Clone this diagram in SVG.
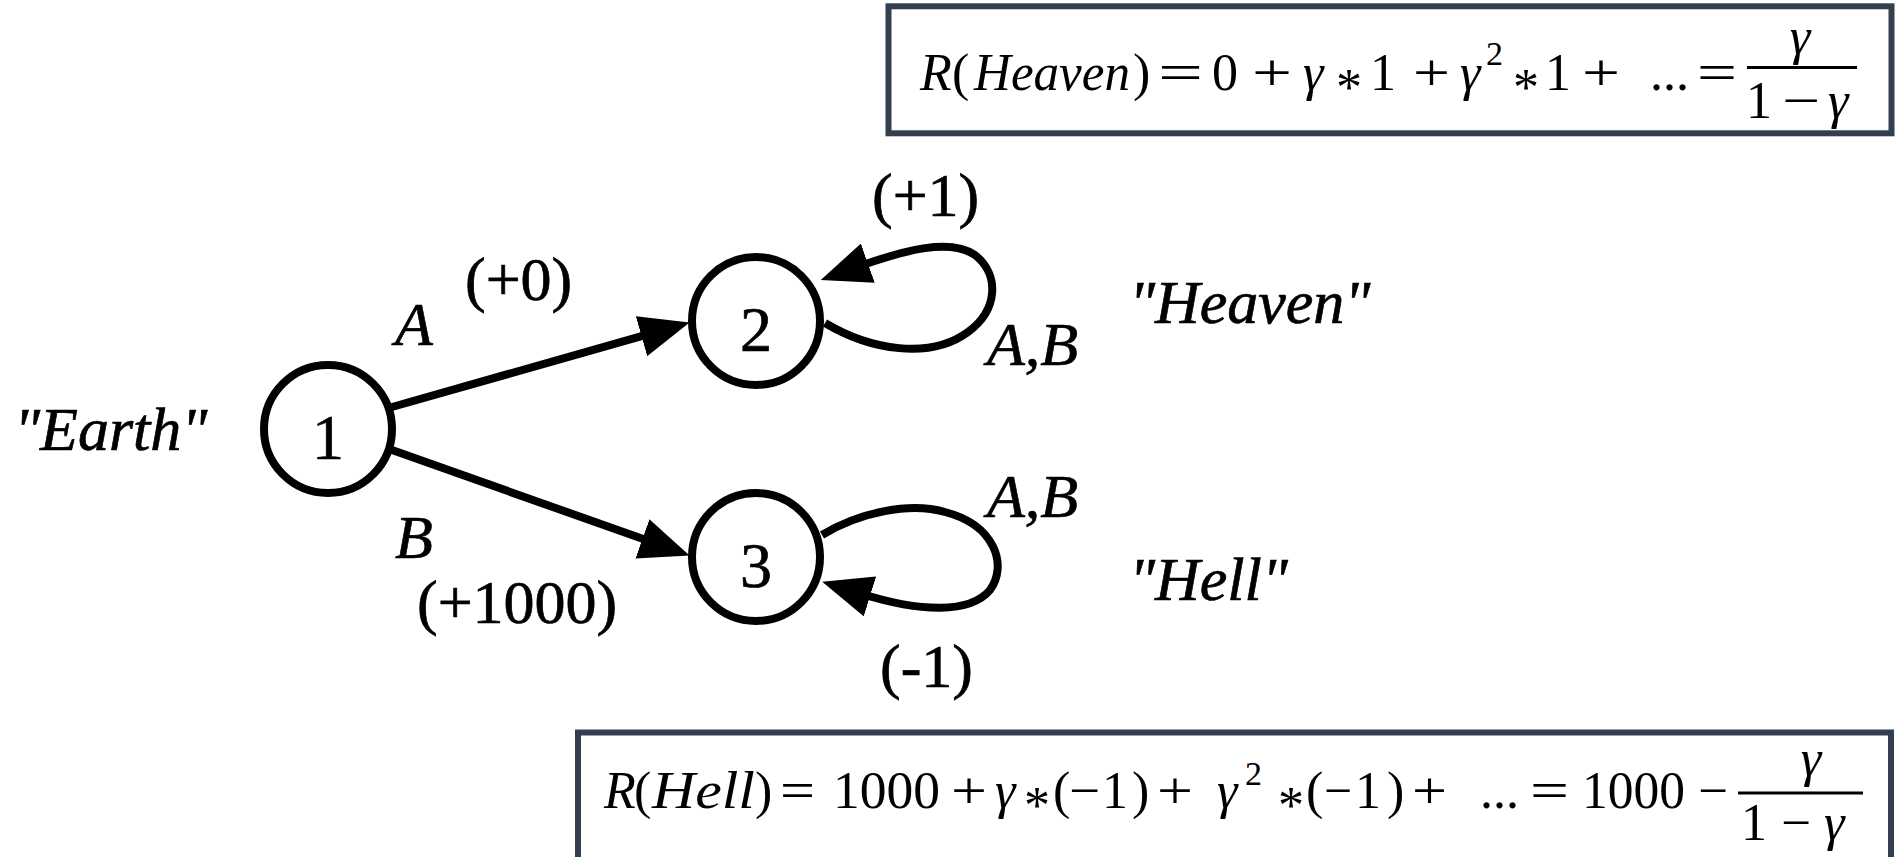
<svg xmlns="http://www.w3.org/2000/svg" width="1903" height="857" viewBox="0 0 1903 857">
<style>
.bg{fill:#ffffff}
.node{fill:#ffffff;stroke:#000;stroke-width:8}
.edge{fill:none;stroke:#000;stroke-width:8}
.lbl{font-family:"Liberation Serif","Times New Roman",serif;font-size:62px;fill:#000;stroke:#000;stroke-width:0.7}
.it{font-style:italic}
.num{font-family:"Liberation Serif","Times New Roman",serif;font-size:64px;text-anchor:middle;fill:#000;stroke:#000;stroke-width:0.7}
.box{fill:#ffffff;stroke:#333f4f;stroke-width:6}
.f{font-family:"Liberation Serif","DejaVu Serif",serif;font-size:52px;fill:#000}
.sup{font-size:34px}
.mid{text-anchor:middle}
.bar{stroke:#000;stroke-width:3}
</style>
<defs>
<marker id="arrow" markerUnits="userSpaceOnUse" markerWidth="50" markerHeight="42" viewBox="0 0 48 40" refX="8" refY="20" orient="auto">
<path d="M0,0 L48,20 L0,40 z" fill="#000"/>
</marker>
</defs>
<rect class="bg" x="0" y="0" width="1903" height="857"/>

<g id="connectors">
<path class="edge" d="M392,407 L649.5,333.9" marker-end="url(#arrow)"/>
<path class="edge" d="M392,450 L650.3,541.6" marker-end="url(#arrow)"/>
<path class="edge" d="M825,323 C870,350 930,360 968,332 C998,310 1000,275 975,255 C950,238 905,250 860,266" marker-end="url(#arrow)"/>
<path class="edge" d="M822,535 C860,512 910,502 945,512 C995,525 1008,565 990,590 C970,614 920,612 862,594" marker-end="url(#arrow)"/>
</g>

<g id="node-1">
<circle class="node" cx="328" cy="429" r="64"/>
<text class="num" x="328" y="459">1</text>
</g>
<g id="node-2">
<circle class="node" cx="756" cy="321" r="64"/>
<text class="num" x="756" y="351">2</text>
</g>
<g id="node-3">
<circle class="node" cx="756" cy="557" r="64"/>
<text class="num" x="756" y="587">3</text>
</g>

<g id="labels">
<text class="lbl it" x="14" y="450">"Earth"</text>
<text class="lbl it" x="1129" y="323">"Heaven"</text>
<text class="lbl it" x="1129" y="600">"Hell"</text>
<text class="lbl it" x="395" y="345">A</text>
<text class="lbl" x="465" y="300">(+0)</text>
<text class="lbl it" x="395" y="558">B</text>
<text class="lbl" x="417" y="623">(+1000)</text>
<text class="lbl" x="872" y="216">(+1)</text>
<text class="lbl it" x="987" y="365">A,B</text>
<text class="lbl it" x="987" y="517">A,B</text>
<text class="lbl" x="880" y="687">(-1)</text>
</g>

<g id="formula-heaven">
<rect class="box" x="888.5" y="6.3" width="1003" height="127"/>
<text class="f it" x="920" y="90">R</text>
<text class="f" x="952" y="90">(</text>
<text class="f it" x="974" y="90" textLength="156" lengthAdjust="spacingAndGlyphs">Heaven</text>
<text class="f" x="1133" y="90">)</text>
<text class="f" x="1158" y="90" textLength="45" lengthAdjust="spacingAndGlyphs">=</text>
<text class="f" x="1212" y="90">0</text>
<text class="f" x="1252" y="90" textLength="40" lengthAdjust="spacingAndGlyphs">+</text>
<text class="f it" x="1303" y="90">γ</text>
<text class="f mid" x="1349" y="105">*</text>
<text class="f" x="1370" y="90">1</text>
<text class="f" x="1413" y="90" textLength="37" lengthAdjust="spacingAndGlyphs">+</text>
<text class="f it" x="1460" y="90">γ</text>
<text class="f sup" x="1486" y="65">2</text>
<text class="f mid" x="1526" y="105">*</text>
<text class="f" x="1545" y="90">1</text>
<text class="f" x="1582" y="90" textLength="38" lengthAdjust="spacingAndGlyphs">+</text>
<text class="f" x="1650" y="90">...</text>
<text class="f" x="1697" y="90" textLength="40" lengthAdjust="spacingAndGlyphs">=</text>
<line class="bar" x1="1747" y1="67.5" x2="1857" y2="67.5"/>
<text class="f it mid" x="1800" y="54">γ</text>
<text class="f" x="1746" y="118">1</text>
<text class="f" x="1782" y="118" textLength="38" lengthAdjust="spacingAndGlyphs">−</text>
<text class="f it" x="1828" y="118">γ</text>
</g>

<g id="formula-hell">
<rect class="box" x="578" y="732.5" width="1313" height="135"/>
<text class="f it" x="604" y="808">R</text>
<text class="f" x="634" y="808">(</text>
<text class="f it" x="652" y="808" textLength="103" lengthAdjust="spacingAndGlyphs">Hell</text>
<text class="f" x="755" y="808">)</text>
<text class="f" x="780" y="808" textLength="35" lengthAdjust="spacingAndGlyphs">=</text>
<text class="f" x="833" y="808" textLength="107" lengthAdjust="spacingAndGlyphs">1000</text>
<text class="f" x="951" y="808" textLength="36" lengthAdjust="spacingAndGlyphs">+</text>
<text class="f it" x="995" y="808">γ</text>
<text class="f mid" x="1037" y="823">*</text>
<text class="f" x="1053" y="808">(</text>
<text class="f" x="1069" y="808" textLength="31" lengthAdjust="spacingAndGlyphs">−</text>
<text class="f" x="1102" y="808">1</text>
<text class="f" x="1132" y="808">)</text>
<text class="f" x="1157" y="808" textLength="36" lengthAdjust="spacingAndGlyphs">+</text>
<text class="f it" x="1217" y="808">γ</text>
<text class="f sup" x="1245" y="785">2</text>
<text class="f mid" x="1291" y="823">*</text>
<text class="f" x="1306" y="808">(</text>
<text class="f" x="1324" y="808" textLength="28" lengthAdjust="spacingAndGlyphs">−</text>
<text class="f" x="1355" y="808">1</text>
<text class="f" x="1387" y="808">)</text>
<text class="f" x="1412" y="808" textLength="35" lengthAdjust="spacingAndGlyphs">+</text>
<text class="f" x="1480" y="808">...</text>
<text class="f" x="1530" y="808" textLength="39" lengthAdjust="spacingAndGlyphs">=</text>
<text class="f" x="1582" y="808" textLength="103" lengthAdjust="spacingAndGlyphs">1000</text>
<text class="f" x="1698" y="808" textLength="30" lengthAdjust="spacingAndGlyphs">−</text>
<line class="bar" x1="1738" y1="793" x2="1863" y2="793"/>
<text class="f it mid" x="1811" y="776">γ</text>
<text class="f" x="1741" y="840">1</text>
<text class="f" x="1781" y="840" textLength="30" lengthAdjust="spacingAndGlyphs">−</text>
<text class="f it" x="1824" y="840">γ</text>
</g>
</svg>
